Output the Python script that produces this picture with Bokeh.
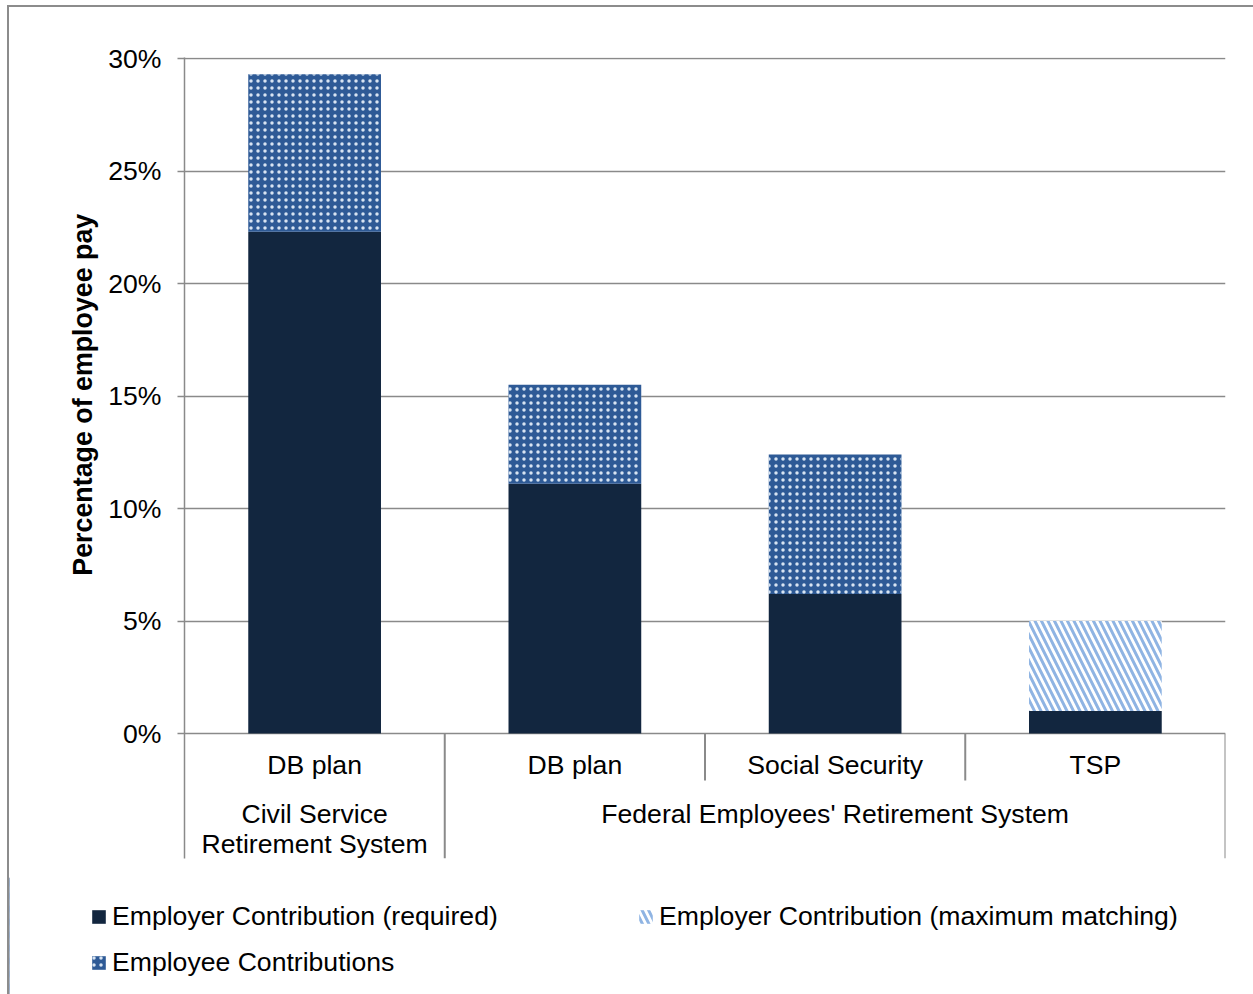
import numpy as np
from bokeh.plotting import figure
from bokeh.layouts import column
from bokeh.models import (Range1d, FixedTicker, PrintfTickFormatter, Legend, LegendItem)
from bokeh.core.properties import value
from bokeh.embed import file_html
from bokeh.resources import INLINE

# ---- data ----
sub_labels = ["DB plan", "DB plan", "Social Security", "TSP"]
group_labels = ["Civil Service\nRetirement System", "Federal Employees' Retirement System"]
group_sizes = [1, 3]
employer_required = [22.3, 11.1, 6.2, 1.0]
employee_contrib = [7.0, 4.4, 6.2, 0.0]
employer_matching = [0.0, 0.0, 0.0, 4.0]
y_ticks = [0, 5, 10, 15, 20, 25, 30]
y_label = "Percentage of employee pay"
series_names = ["Employer Contribution (required)",
                "Employer Contribution (maximum matching)",
                "Employee Contributions"]

FONT = "Liberation Sans"
FS = "26.6px"
DARK = "#12263f"
DOTBLUE = "#2e5a96"
GRID = "#8a8a8a"

REQ_STYLE = dict(fill_color=DARK, line_color=None)
EMP_STYLE = dict(fill_color=DOTBLUE, line_color=None, hatch_pattern="dot",
                 hatch_color="#d8e4f2", hatch_scale=7, hatch_weight=2.4)
MAT_STYLE = dict(fill_color="#ffffff", line_color=None, hatch_pattern="left_diagonal_line",
                 hatch_color="#8fb4e3", hatch_scale=13, hatch_weight=3)

n = len(sub_labels)
xc = np.arange(n) + 0.5
req = np.array(employer_required)
emp = np.array(employee_contrib)
mat = np.array(employer_matching)

W = 1244          # page width minus left frame offset
H1 = 870
H2 = 987 - H1
y_bottom = -5.556
y_top = 30.05

p = figure(width=W, height=H1, output_backend="svg", toolbar_location=None,
           x_range=Range1d(0, n), y_range=Range1d(y_bottom, y_top),
           x_axis_type=None,
           min_border_left=175, min_border_right=28, min_border_top=50,
           min_border_bottom=H1 - 851)
p.outline_line_color = None
p.xgrid.visible = False
p.ygrid.ticker = FixedTicker(ticks=y_ticks)
p.ygrid.grid_line_color = GRID
p.ygrid.grid_line_width = 1.5

ax = p.yaxis[0]
ax.ticker = FixedTicker(ticks=y_ticks)
ax.formatter = PrintfTickFormatter(format="%d%%")
ax.axis_line_color = GRID
ax.axis_line_width = 1.5
ax.major_tick_line_color = GRID
ax.major_tick_line_width = 1.5
ax.major_tick_out = 7
ax.major_tick_in = 0
ax.minor_tick_line_color = None
ax.major_label_text_font = FONT
ax.major_label_text_font_size = FS
ax.major_label_text_color = "#000000"
ax.major_label_standoff = 16
# the label is centred on the value area (0-30%), not on the whole frame: pad its lower end
ax.axis_label = "\u00a0" * 17 + y_label
ax.axis_label_text_font = FONT
ax.axis_label_text_font_size = "26.8px"
ax.axis_label_text_font_style = "bold"
ax.axis_label_text_color = "#000000"
ax.axis_label_standoff = 7

bw = 0.51
r_req = p.vbar(x=xc, bottom=0, top=req, width=bw, **REQ_STYLE)
r_emp = p.vbar(x=xc, bottom=req, top=req + emp, width=bw, **EMP_STYLE)
r_mat = p.vbar(x=xc, bottom=req, top=req + mat, width=bw, **MAT_STYLE)

# category table separators
sub_line_y = -2.09
bounds = np.cumsum(group_sizes)
sep_x = [float(i) for i in range(1, n + 1)]
sep_y1 = [y_bottom if i in bounds else sub_line_y for i in range(1, n + 1)]
p.segment(x0=sep_x, y0=[0] * len(sep_x), x1=sep_x, y1=sep_y1, line_color=GRID, line_width=2)

p.text(x=xc, y=[-1.42] * n, text=sub_labels, text_font=value(FONT), text_font_size=FS,
       text_align="center", text_baseline="middle", text_color="#000000")
starts = np.concatenate([[0], bounds[:-1]])
gx = (starts + bounds) / 2.0
p.text(x=gx, y=[-2.93] * len(gx), text=group_labels, text_font=value(FONT), text_font_size=FS,
       text_align="center", text_baseline="top", text_color="#000000", text_line_height=1.0)

# ---- legend panel ----
q = figure(width=W, height=H2, output_backend="svg", toolbar_location=None,
           x_range=Range1d(0, 1), y_range=Range1d(0, 1), x_axis_type=None, y_axis_type=None,
           min_border=0, min_border_left=0, min_border_right=0, min_border_top=0,
           min_border_bottom=0)
q.outline_line_color = None
q.grid.visible = False
lr_req = q.vbar(x=[-5], top=[1], width=0.1, **REQ_STYLE)
lr_mat = q.vbar(x=[-5], top=[1], width=0.1, **MAT_STYLE)
lr_emp = q.vbar(x=[-5], top=[1], width=0.1, **EMP_STYLE)
legend = Legend(items=[LegendItem(label=series_names[0], renderers=[lr_req]),
                       LegendItem(label=series_names[1], renderers=[lr_mat]),
                       LegendItem(label=series_names[2], renderers=[lr_emp])],
                orientation="horizontal", ncols=2, location=(81, 16),
                label_text_font=FONT, label_text_font_size=FS, label_text_color="#000000",
                glyph_width=17, glyph_height=17, label_standoff=5, label_width=510,
                spacing=15, padding=0, margin=0, border_line_color=None,
                background_fill_alpha=0)
q.add_layout(legend, "center")

lay = column(p, column(q, spacing=0), spacing=0,
             styles={"margin-left": "7px", "margin-top": "5px",
                     "border-left": "2px solid #8c8c8c", "border-top": "2px solid #8c8c8c"})

open("out.html", "w").write(file_html(lay, INLINE))
